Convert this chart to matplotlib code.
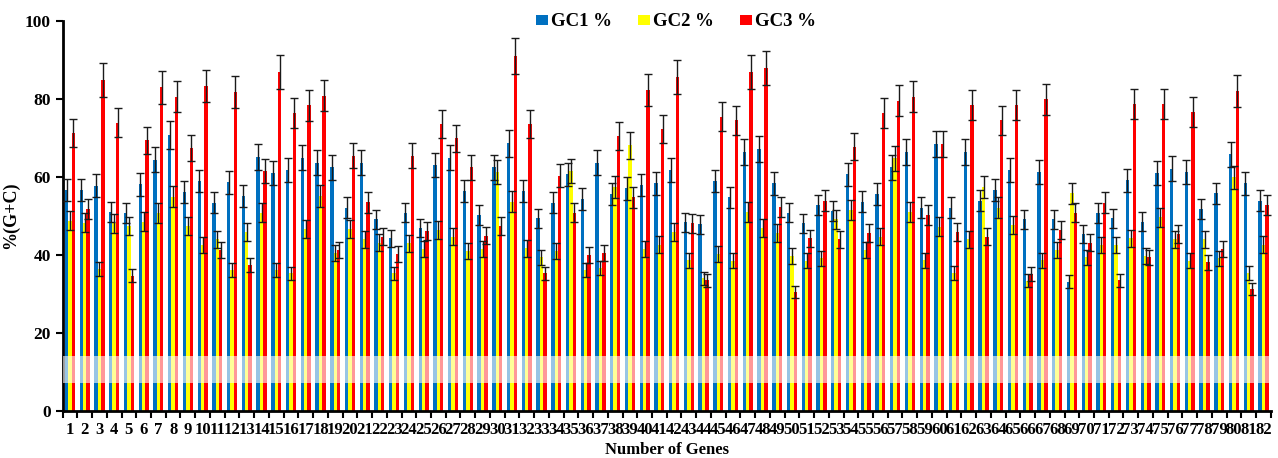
import numpy as np
import matplotlib
matplotlib.use("Agg")
import matplotlib.pyplot as plt

# GC content at the three codon positions for 82 genes
genes = [str(i) for i in range(1, 83)]

gc1 = [56.7, 56.7, 57.7, 50.9, 50.6, 58.0, 64.3, 70.7, 56.0, 58.9,
       53.3, 58.6, 55.1, 65.1, 60.9, 61.7, 64.9, 63.6, 62.4, 52.1,
       63.6, 49.1, 44.2, 50.8, 46.8, 63.0, 64.9, 56.3, 50.2, 62.4,
       68.6, 56.3, 49.3, 53.3, 60.6, 54.3, 63.6, 55.5, 57.0, 57.9,
       58.3, 61.7, 48.3, 47.8, 58.9, 54.7, 66.4, 67.0, 58.3, 50.8,
       48.0, 52.7, 51.3, 60.6, 53.6, 55.5, 62.4, 66.4, 52.1, 68.4,
       52.1, 66.4, 53.8, 56.7, 61.7, 49.1, 61.1, 49.1, 33.1, 45.3,
       50.6, 49.3, 59.1, 48.5, 60.9, 62.1, 61.1, 51.7, 55.7, 65.7,
       58.3, 53.8]

gc2 = [48.7, 48.2, 36.3, 48.0, 47.4, 48.5, 50.6, 54.9, 47.4, 42.5,
       43.9, 36.1, 45.9, 50.8, 36.1, 35.2, 46.5, 55.1, 40.5, 46.5,
       43.9, 43.1, 35.2, 42.9, 41.5, 46.3, 44.6, 41.0, 41.5, 61.1,
       53.6, 41.6, 39.3, 40.9, 61.4, 36.1, 36.5, 57.3, 68.0, 41.4,
       42.6, 45.9, 38.6, 33.9, 40.2, 38.4, 50.9, 46.9, 45.6, 39.7,
       38.4, 39.1, 49.1, 51.4, 41.2, 44.6, 64.7, 51.0, 38.6, 47.2,
       35.4, 43.9, 57.4, 52.1, 47.6, 33.3, 38.6, 41.2, 55.7, 39.3,
       42.5, 42.5, 44.2, 39.7, 49.6, 43.9, 38.5, 43.9, 39.1, 59.8,
       35.4, 42.6]

gc3 = [71.3, 51.7, 84.8, 73.8, 34.6, 69.4, 82.9, 80.5, 67.3, 83.3,
       41.2, 81.8, 37.4, 61.5, 86.9, 76.4, 78.3, 80.8, 41.2, 65.4,
       53.4, 44.6, 40.2, 65.4, 46.2, 73.5, 69.8, 62.4, 44.9, 47.4,
       91.0, 73.5, 35.2, 60.3, 50.8, 39.9, 40.5, 70.4, 54.7, 82.2,
       72.2, 85.6, 48.0, 33.5, 75.4, 74.5, 86.9, 87.9, 52.3, 30.4,
       44.2, 53.8, 43.9, 67.7, 45.6, 76.4, 79.5, 80.5, 50.2, 68.4,
       45.9, 78.4, 44.6, 74.5, 78.4, 35.0, 79.9, 46.3, 50.8, 43.1,
       53.3, 33.5, 78.6, 39.3, 78.6, 45.3, 76.7, 38.0, 41.4, 82.1,
       31.3, 52.7]

series = ["GC1 %", "GC2 %", "GC3 %"]
colors = ["#0070C0", "#FFFF00", "#FF0000"]
err_pct = 0.05  # Excel style percentage error bars

plt.rcParams["font.family"] = ["Liberation Serif", "DejaVu Serif"]
plt.rcParams["font.weight"] = "bold"

fig = plt.figure(figsize=(12.78, 4.58), dpi=100)
ax = fig.add_axes([0.049, 0.1033, 0.9454, 0.8515])

x = np.arange(len(genes))
w = 0.23
bars = []
for k, (vals, c) in enumerate(zip([gc1, gc2, gc3], colors)):
    vals = np.array(vals)
    b = ax.bar(x + (k - 1) * w, vals, width=w, color=c, linewidth=0,
               zorder=2, label=series[k])
    ax.errorbar(x + (k - 1) * w, vals, yerr=vals * err_pct, fmt="none",
                ecolor="#1a1a1a", elinewidth=1.0, capsize=3, capthick=1.0, zorder=3)
    bars.append(b)

# washed out strip visible in the original picture
ax.axhspan(7.1, 14.0, color="white", alpha=0.6, lw=0, zorder=4)

ax.set_xlim(-0.5, len(genes) - 0.5)
ax.set_ylim(0, 100)
ax.set_yticks([0, 20, 40, 60, 80, 100])
ax.set_xticks(x)
ax.set_xticklabels(genes)
ax.set_xticks(np.arange(-0.5, len(genes), 1), minor=True)
ax.tick_params(axis="x", which="major", length=0, labelsize=12, pad=8)
ax.tick_params(axis="x", which="minor", length=5, width=1.5, direction="out")
ax.tick_params(axis="y", length=5, width=1.5, direction="out", labelsize=12.5)

for s in ["top", "right"]:
    ax.spines[s].set_visible(False)
for s in ["left", "bottom"]:
    ax.spines[s].set_linewidth(2)

ax.set_xlabel("Number of Genes", fontsize=12, fontweight="bold", labelpad=3)
ax.set_ylabel("%(G+C)", fontsize=13, fontweight="bold", labelpad=4)

fig.legend(handles=[b[0] for b in bars], labels=series, loc="center",
           bbox_to_anchor=(0.529, 0.952), ncol=3, frameon=False,
           handlelength=0.65, handleheight=0.45, handletextpad=0.15,
           columnspacing=1.4, fontsize=13.5)

fig.savefig("out.png", dpi=100)
